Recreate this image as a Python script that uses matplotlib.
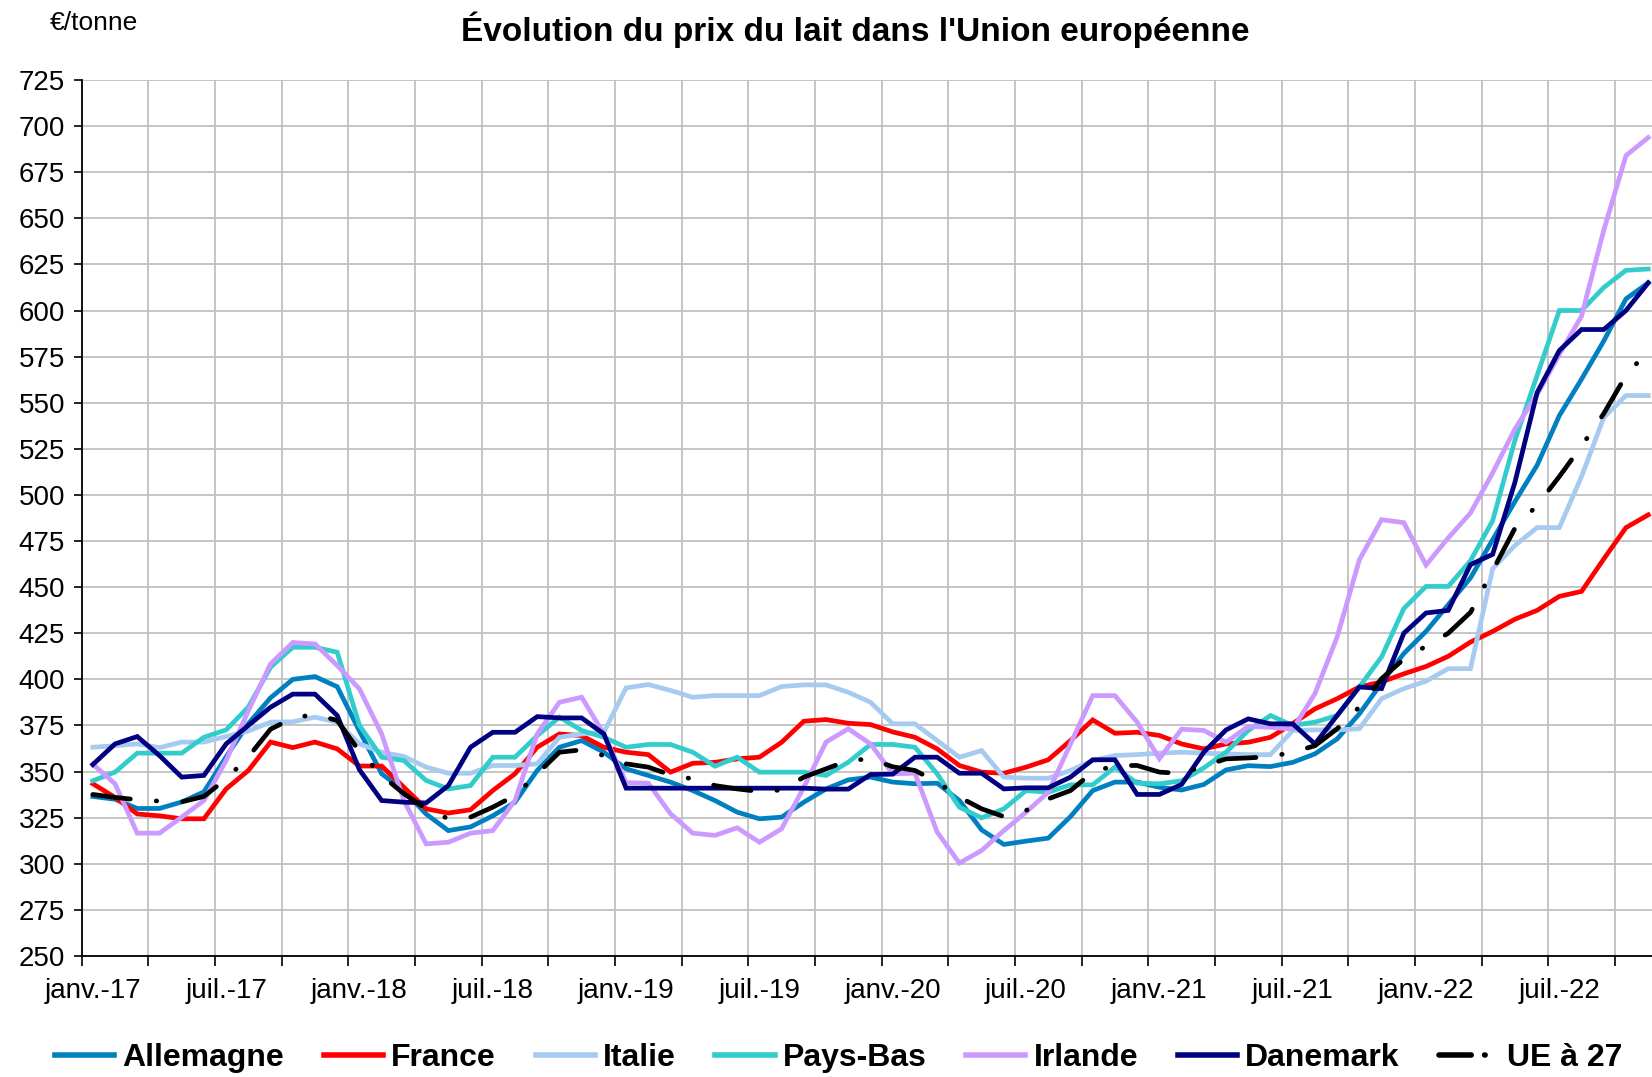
import numpy as np
import matplotlib
matplotlib.use("Agg")
import matplotlib.pyplot as plt
from matplotlib import font_manager as fm

# ---------------- data (€/tonne), monthly Jan 2017 -> Nov 2022 ----------------
allemagne = [336.5, 335, 330, 330, 333.5, 339, 358, 376, 390, 400, 401.5, 396,
             372, 348.8, 339.7, 327, 318, 320, 326, 333.4, 350.6, 363.2, 366.8, 360.5,
             351.5, 347.9, 344.3, 339.7, 334.3, 328, 324.4, 325.3, 333.4, 340.6, 345.5, 347,
             344.3, 343.4, 343.7, 334.3, 318.4, 310.5, 312.3, 313.9, 325.6, 339.7, 344.3, 344.3,
             341.5, 340, 343, 350.9, 353.2, 352.7, 355, 359.6, 367.7, 381.3, 398, 414,
             426, 440.5, 455, 475.7, 496.4, 516.1, 543, 562.8, 583.5, 606.3, 615]
france = [343.4, 336, 327, 326, 324.4, 324.4, 340.6, 350.6, 366, 363, 366, 362.3,
          353, 353, 341.5, 329.8, 327.5, 329.3, 339.7, 348.8, 363.2, 370.4, 369.5, 363.2,
          360.5, 359.2, 349.7, 354.5, 355, 356.9, 357.8, 365.9, 377.3, 378.2, 376.2, 375.5,
          371.5, 368.6, 362.3, 353.3, 349.7, 349.1, 352.4, 356.4, 366.8, 378, 370.8, 371.3,
          369.6, 365, 362.3, 365, 365.9, 368.6, 376, 384, 389.5, 395.9, 398.6, 403,
          407, 412.5, 420.2, 426, 432.6, 437.4, 445, 447.7, 465.3, 482.3, 489.2]
italie = [363.2, 364, 365, 363, 366, 366, 369, 372, 376.8, 377, 379.5, 376.8,
          365, 360.5, 358.2, 352.4, 349.1, 349.1, 353.3, 353.3, 354.2, 368.6, 370.4, 371.3,
          395.4, 397.2, 394, 390.3, 391.2, 391.2, 391.2, 396.1, 397, 397, 393, 387.6,
          375.9, 375.9, 366.8, 357.8, 361.4, 347, 346.4, 346.4, 350.6, 356, 358.7, 359.2,
          360, 360.5, 360, 359.6, 359.2, 359.2, 372.3, 372.6, 372.6, 373.2, 389.5, 395,
          399, 405.8, 405.8, 460, 472.6, 482.3, 482.3, 510, 542, 553.9, 553.9]
pays_bas = [345, 349.7, 360, 360, 360, 368.6, 372.6, 385, 406.6, 417.4, 417.4, 414.7,
            375, 357.8, 356, 345.2, 340.6, 342.4, 357.8, 357.8, 369.5, 379.5, 372.3, 368.6,
            363.2, 364.7, 364.7, 360.5, 352.9, 357.8, 349.7, 349.7, 349.7, 347.9, 355.1, 364.7,
            364.7, 363.2, 348.8, 330.7, 324.9, 329.8, 339.7, 338.8, 342.8, 342.8, 352.4, 343.7,
            343.4, 345, 352, 360.5, 372.3, 380.4, 375, 376.8, 380.4, 395.9, 412.2, 438.4,
            450.4, 450.4, 464.3, 486.1, 529.6, 564.8, 600, 600, 612.5, 621.8, 622.5]
irlande = [354, 343.4, 316.6, 316.6, 325.3, 334.3, 356, 383, 408.4, 420, 419.2, 407.5,
           394.8, 370.4, 334.3, 310.8, 311.7, 316.6, 318, 334.3, 370.4, 387.6, 390.3, 370.4,
           344, 343.7, 327.1, 316.6, 315.4, 319.5, 311.7, 319, 341.5, 366, 373.2, 365,
           348.8, 349.1, 317.2, 300.4, 307.2, 318, 328, 338.8, 365, 391.2, 391.2, 376.8,
           357, 373, 372.3, 365.9, 374.5, 374, 373, 392.2, 423, 464.8, 486.6, 485,
           462, 476.7, 490.2, 512, 535.8, 554.5, 576.2, 597, 643.6, 684, 693.8]
danemark = [353.8, 365, 369, 358.7, 347, 347.9, 365, 375, 384.9, 392, 392, 380.4,
            351, 334.3, 333.4, 333, 342.4, 363.2, 371.3, 371.3, 379.8, 379.1, 379.1, 370.4,
            341, 341, 341, 341, 341, 341, 341, 341, 341, 340.5, 340.5, 348.4,
            348.6, 357.8, 357.8, 349.1, 349.1, 340.6, 341.2, 341.2, 347, 356.4, 356.4, 337.6,
            337.6, 343, 360.5, 372.6, 378.6, 375.9, 375.9, 365, 380.4, 395.9, 395, 425,
            436, 437.4, 462.2, 467.8, 506.8, 555.5, 578.3, 589.7, 589.7, 600, 615]
ue27 = [337.6, 336, 334.7, 334, 333.6, 336.5, 346, 358, 373, 379, 381, 377.7,
        361, 347.9, 338, 329.8, 324.4, 325.3, 330.7, 337, 348.8, 360.5, 361.8, 358.7,
        354.2, 352.4, 348.2, 346, 342.4, 340.6, 339.2, 340, 347, 351.5, 356, 356.9,
        352.6, 350.6, 344.3, 336.1, 329.8, 325.6, 328.9, 335.2, 339.7, 349.7, 353.3, 353.3,
        349.7, 349, 353, 356.9, 357.4, 358.1, 360.5, 364, 373.2, 385, 400.4, 411,
        418, 425, 436.3, 459, 481.9, 494.4, 510, 526.5, 544.1, 564.8, 578.3]

series_names = ["Allemagne", "France", "Italie", "Pays-Bas", "Irlande", "Danemark", "UE à 27"]
x_labels = ["janv.-17", "juil.-17", "janv.-18", "juil.-18", "janv.-19", "juil.-19",
            "janv.-20", "juil.-20", "janv.-21", "juil.-21", "janv.-22", "juil.-22"]
y_ticks = list(range(250, 726, 25))

# ---------------- fonts ----------------
names = {f.name for f in fm.fontManager.ttflist}
narrow = "Liberation Sans Narrow" if "Liberation Sans Narrow" in names else "Liberation Sans"
plt.rcParams["font.family"] = [narrow, "DejaVu Sans"]

W, H = 1652, 1077
fig = plt.figure(figsize=(W / 100, H / 100), dpi=100)
left, right, top, bottom = 81.7, 1652, 80, 956
ax = fig.add_axes([left / W, 1 - bottom / H, (right - left) / W, (bottom - top) / H])

x = np.arange(len(allemagne)) + 0.5
colors = ["#0080C0", "#FF0000", "#A6CAF0", "#33CCCC", "#CC99FF", "#000080", "#000000"]
data = [allemagne, france, italie, pays_bas, irlande, danemark, ue27]
lw = 3.4
for name, vals, col in zip(series_names, data, colors):
    if name == "UE à 27":
        ax.plot(x, vals, color=col, lw=lw, label=name, dashes=(8.0, 5.5, 0.1, 5.5),
                dash_capstyle="round", zorder=5)
    else:
        ax.plot(x, vals, color=col, lw=lw, label=name, solid_joinstyle="miter", zorder=3)

ax.set_xlim(0, (right - left) / 22.22)
ax.set_ylim(250, 725)

ax.set_xticks(np.arange(0, 71, 3))
ax.set_xticks(np.arange(0, 71, 6) + 0.5, minor=True)
ax.set_xticklabels([], minor=False)
ax.set_xticklabels(x_labels, minor=True)
ax.set_yticks(y_ticks)
ax.set_yticklabels([str(v) for v in y_ticks])

ax.grid(True, which="major", color="#C0C0C0", lw=1.3, zorder=0)
ax.set_axisbelow(True)
ax.tick_params(axis="x", which="major", length=7, width=1.2, direction="out", color="black")
ax.tick_params(axis="x", which="minor", length=0, pad=16, labelsize=20)
ax.tick_params(axis="y", which="major", length=6, width=1.2, direction="out", pad=6, labelsize=20)

for s in ["top", "right"]:
    ax.spines[s].set_visible(False)
for s in ["left", "bottom"]:
    ax.spines[s].set_color("black")
    ax.spines[s].set_linewidth(1.3)

fig.text(50 / W, 1 - 23 / H, "€/tonne", fontsize=19, ha="left", va="center")
fig.text(855 / W, 1 - 30 / H, "Évolution du prix du lait dans l'Union européenne",
         fontsize=24, fontweight="bold", ha="center", va="center")

leg = fig.legend(loc="center left", bbox_to_anchor=(55 / W, 1 - 1058 / H), ncol=7,
                 frameon=False, prop={"weight": "bold", "size": 23},
                 handlelength=1.85, handletextpad=0.25, columnspacing=1.25, borderpad=0,
                 borderaxespad=0)
leg_lines = leg.get_lines()
for h in leg_lines:
    h.set_linewidth(4)
leg_lines[-1].set_dashes((5.8, 2.4, 0.1, 10))
leg_lines[-1].set_dash_capstyle("round")

fig.savefig("out.png", dpi=100)
